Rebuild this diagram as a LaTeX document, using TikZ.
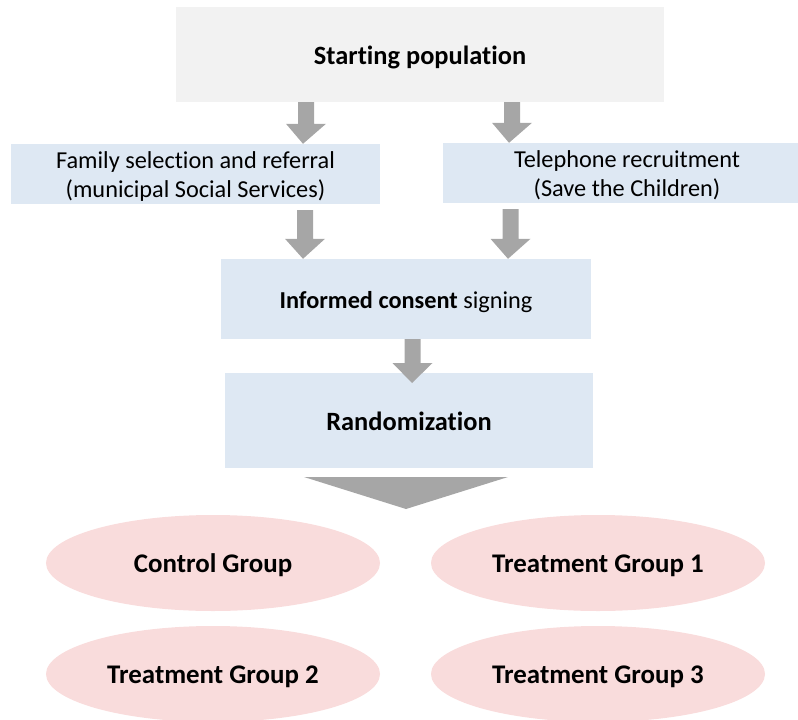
\documentclass[tikz,border=0pt]{standalone}
\usepackage{fontspec}
\setmainfont[Ligatures=NoCommon]{Carlito}
\usetikzlibrary{calc,shapes.geometric}

\definecolor{boxgray}{HTML}{F2F2F2}
\definecolor{boxblue}{HTML}{DEE8F3}
\definecolor{grouppink}{HTML}{F9DCDC}
\definecolor{arrowgray}{HTML}{A6A6A6}

% text block set a little below the optical centre of its shape
\newcommand{\lowtext}[1]{\raisebox{-3.5bp}[\height][\depth]{\begin{tabular}{@{}c@{}}#1\end{tabular}}}

\tikzset{
  stagebox/.style={rectangle, fill=boxblue, inner sep=0pt,
    font=\fontsize{24.4}{29}\selectfont},
  headfont/.style={font=\fontsize{26.5}{31}\selectfont\bfseries},
  groupnode/.style={ellipse, fill=grouppink, inner sep=0pt,
    minimum width=334bp, minimum height=96bp,
    font=\fontsize{27}{32}\selectfont\bfseries},
}

% broad down arrow: shaft from #1 to the head base, tip at #2
\newcommand{\blockarrow}[2]{%
  \fill[arrowgray] let \p1=(#1), \p2=(#2) in
    (\x1-8bp,\y1) -- (\x1+8bp,\y1) -- (\x1+8bp,\y2+20bp) -- (\x1+20bp,\y2+20bp)
    -- (\x2,\y2) -- (\x1-20bp,\y2+20bp) -- (\x1-8bp,\y2+20bp) -- cycle;}

\begin{document}
\begin{tikzpicture}[x=1bp,y=-1bp]
\clip (0,0) rectangle (798,720);

\node[rectangle, fill=boxgray, minimum width=488bp, minimum height=95bp,
  inner sep=0pt, headfont] (start) at (420,54.5) {\lowtext{Starting population}};

\node[stagebox, minimum width=369bp, minimum height=60bp] (family) at (195.5,174)
  {\lowtext{Family selection and referral\\(municipal Social Services)}};
\node[stagebox, minimum width=368bp, minimum height=60bp] (phone) at (627,173)
  {\lowtext{Telephone recruitment\\(Save the Children)}};

\node[stagebox, minimum width=370bp, minimum height=80bp] (consent) at (406,299)
  {\lowtext{\textbf{Informed consent} signing}};
\node[stagebox, minimum width=368bp, minimum height=95bp,
  headfont] (random) at (409,420.5) {\lowtext{Randomization}};

\node[groupnode] (control) at (213,563) {\lowtext{Control Group}};
\node[groupnode] (treat1) at (598,563) {\lowtext{Treatment Group 1}};
\node[groupnode] (treat2) at (213,674) {\lowtext{Treatment Group 2}};
\node[groupnode] (treat3) at (598,674) {\lowtext{Treatment Group 3}};

% arrow ends
\coordinate (a1s) at (start.south -| 306,0);
\coordinate (a1e) at (family.north -| 303,0);
\coordinate (a2s) at (start.south -| 512,0);
\coordinate (a2e) at (phone.north -| 509,0);
\coordinate (a3s) at (305,210);
\coordinate (a3e) at (consent.north -| 303,0);
\coordinate (a4s) at (510.5,209);
\coordinate (a4e) at (consent.north -| 508,0);
\coordinate (a5s) at (consent.south -| 412.5,0);
\coordinate (a5e) at (412,383);

\blockarrow{a1s}{a1e}
\blockarrow{a2s}{a2e}
\blockarrow{a3s}{a3e}
\blockarrow{a4s}{a4e}
\blockarrow{a5s}{a5e}

% wide wedge pointing to the groups
\coordinate (wl) at (304,477);
\coordinate (wr) at (508,477);
\coordinate (wt) at (406,509);
\fill[arrowgray] (wl) -- (wr) -- (wt) -- cycle;
\end{tikzpicture}
\end{document}
